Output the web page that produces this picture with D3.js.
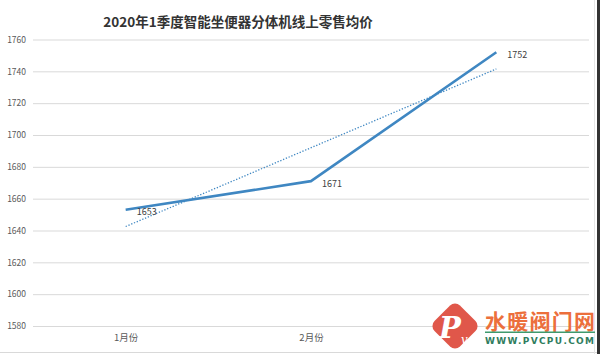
<!DOCTYPE html>
<html><head><meta charset="utf-8">
<script src="https://cdn.jsdelivr.net/npm/d3@7/dist/d3.min.js"></script>
<style>body{margin:0;background:#fff}svg{display:block}</style>
</head><body><svg id="c" width="600" height="354"></svg>
<script>
const title = "2020年1季度智能坐便器分体机线上零售均价";
const categories = ["1月份", "2月份", "3月份"];
const values = [1653, 1671, 1752];
const yTicks = [1580, 1600, 1620, 1640, 1660, 1680, 1700, 1720, 1740, 1760];

(function(){
const svg = d3.select("#c");
const W = 600, H = 354;
const pLeft = 33, pRight = 589, pTop = 39.5, pBottom = 326;
const font = "'Noto Sans CJK SC','Microsoft YaHei',sans-serif";
const blue = "#3f87c2";

const x = d3.scalePoint().domain(categories).range([pLeft, pRight]).padding(0.5);
const y = d3.scaleLinear().domain([1580, 1760]).range([pBottom, pTop]);

// frame
svg.append("line").attr("x1",0).attr("x2",W).attr("y1",352.5).attr("y2",352.5).attr("stroke","#d9d9d9");
svg.append("line").attr("x1",594.5).attr("x2",594.5).attr("y1",0).attr("y2",H).attr("stroke","#e6e6e6");
svg.append("rect").attr("x",597).attr("y",0).attr("width",3).attr("height",H).attr("fill","#333");

// title
svg.append("text").attr("x",238).attr("y",27).attr("text-anchor","middle")
  .attr("font-family",font).attr("font-size",13.5).attr("font-weight","bold").attr("fill","#333")
  .text(title);

// grid + y labels
const yAxis = d3.axisLeft(y).tickValues(yTicks).tickFormat(d3.format("d"))
  .tickSize(-(pRight-pLeft)).tickPadding(7);
const ga = svg.append("g").attr("transform",`translate(${pLeft},0)`).call(yAxis);
ga.select(".domain").remove();
ga.selectAll(".tick line").attr("stroke","#d9d9d9").attr("stroke-width",1);
ga.selectAll(".tick text").attr("font-family",font).attr("font-size",8.5).attr("fill","#595959");

// x labels (the last one is hidden under the watermark in the original)
const xAxis = d3.axisBottom(x).tickSize(0).tickPadding(8);
const gx = svg.append("g").attr("transform",`translate(0,${pBottom})`).call(xAxis);
gx.select(".domain").remove();
gx.selectAll(".tick text").attr("font-family",font).attr("font-size",9.5).attr("fill","#595959");
gx.selectAll(".tick").filter((d,i)=>i===categories.length-1).select("text").remove();

// linear trendline (least squares over index)
const n = values.length;
const idx = values.map((v,i)=>i+1);
const mx = d3.mean(idx), my = d3.mean(values);
const slope = d3.sum(idx.map((t,i)=>(t-mx)*(values[i]-my))) / d3.sum(idx.map(t=>(t-mx)*(t-mx)));
const icpt = my - slope*mx;
const trend = categories.map((c,i)=>[x(c), y(icpt + slope*(i+1))]);
svg.append("path").attr("d", d3.line()([trend[0], trend[n-1]]))
  .attr("fill","none").attr("stroke",blue).attr("stroke-width",1.3).attr("stroke-dasharray","1.3,1.7");

// data line
svg.append("path").datum(values)
  .attr("d", d3.line().x((d,i)=>x(categories[i])).y(d=>y(d)))
  .attr("fill","none").attr("stroke",blue).attr("stroke-width",2.6).attr("stroke-linejoin","round");

// data labels
svg.selectAll(".lbl").data(values).join("text")
  .attr("x",(d,i)=>x(categories[i])+11).attr("y",d=>y(d)+2)
  .attr("dominant-baseline","central")
  .attr("font-family",font).attr("font-size",9).attr("fill","#404040")
  .text(d=>d);

// watermark logo
const lg = svg.append("g");
lg.append("rect").attr("x",-18).attr("y",-18).attr("width",36).attr("height",36).attr("rx",7)
  .attr("fill","#e0574a").attr("transform","translate(455,326) rotate(45)");
lg.append("text").attr("x",439).attr("y",338).attr("font-family","'DejaVu Serif',serif")
  .attr("font-style","italic").attr("font-weight","bold").attr("font-size",29).attr("fill","#fff").text("P");
lg.append("text").attr("x",461).attr("y",344).attr("font-family","'DejaVu Serif',serif")
  .attr("font-style","italic").attr("font-size",12).attr("fill","#fff").text("v");
lg.append("text").attr("x",485).attr("y",329).attr("font-family",font).attr("font-size",21)
  .attr("font-weight","bold").attr("fill","#ec6f3c").attr("textLength",110).text("水暖阀门网");
lg.append("rect").attr("x",485).attr("y",331.5).attr("width",110).attr("height",1.5).attr("fill","#3f9a6e");
lg.append("text").attr("x",485).attr("y",344).attr("font-family","'DejaVu Sans',sans-serif")
  .attr("font-weight","bold").attr("font-size",9).attr("fill","#2f7d5e").attr("textLength",109).text("WWW.PVCPU.COM");
})();
</script></body></html>
